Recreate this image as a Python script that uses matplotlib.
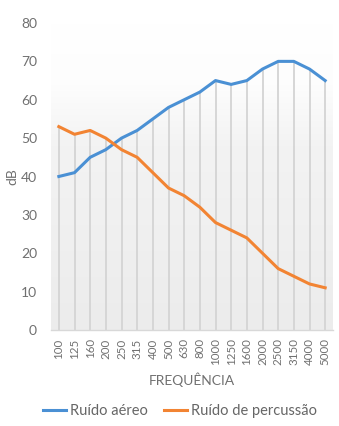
import matplotlib
matplotlib.use("Agg")
import matplotlib.pyplot as plt
import numpy as np
from matplotlib.colors import LinearSegmentedColormap

freqs = ["100", "125", "160", "200", "250", "315", "400", "500", "630", "800",
         "1000", "1250", "1600", "2000", "2500", "3150", "4000", "5000"]
ruido_aereo = [40, 41, 45, 47, 50, 52, 55, 58, 60, 62, 65, 64, 65, 68, 70, 70, 68, 65]
ruido_percussao = [53, 51, 52, 50, 47, 45, 41, 37, 35, 32, 28, 26, 24, 20, 16, 14, 12, 11]
yticks = [0, 10, 20, 30, 40, 50, 60, 70, 80]

plt.rcParams['font.family'] = ['Lato', 'DejaVu Sans']
txt = '#707070'

fig = plt.figure(figsize=(3.39, 4.26), dpi=100)
ax = fig.add_axes([51/339, 1-330/426, (333-51)/339, (330-23)/426])

x = np.arange(len(freqs))
grad = np.linspace(0, 1, 256).reshape(-1, 1)
cmap = LinearSegmentedColormap.from_list(
    'g', [(0, '#ececec'), (0.6, '#f3f3f3'), (0.8, '#fdfdfd'), (1, '#ffffff')])
ax.imshow(grad, extent=[-0.5, len(freqs)-0.5, 0, 80], origin='lower', aspect='auto',
          cmap=cmap, zorder=0)

tops = np.maximum(ruido_aereo, ruido_percussao)
ax.vlines(x, 0, tops, color='#d4d4d4', lw=1.3, zorder=1)

l1, = ax.plot(x, ruido_aereo, color='#4a90d4', lw=2.2, label='Ruído aéreo', zorder=3,
              solid_joinstyle='round')
l2, = ax.plot(x, ruido_percussao, color='#f28433', lw=2.2, label='Ruído de percussão', zorder=3,
              solid_joinstyle='round')

ax.set_xlim(-0.5, len(freqs)-0.5)
ax.set_ylim(0, 80)
ax.set_yticks(yticks)
ax.set_xticks(x)
ax.set_xticklabels(freqs, rotation=90)
ax.tick_params(axis='both', length=0, colors=txt)
ax.tick_params(axis='x', labelsize=8.3, pad=6)
ax.tick_params(axis='y', labelsize=10, pad=10)
for s in ['top', 'right', 'left']:
    ax.spines[s].set_visible(False)
ax.spines['bottom'].set_color('#d8d8d8')
ax.spines['bottom'].set_linewidth(1.0)

ax.set_ylabel('dB', color=txt, fontsize=10)
ax.yaxis.set_label_coords(-0.115, 0.5)
ax.set_xlabel('FREQUÊNCIA', color=txt, fontsize=10, labelpad=5)

leg = fig.legend(handles=[l1, l2], loc='center', bbox_to_anchor=(180/339, 1-411/426),
                 ncol=2, frameon=False, fontsize=10.5, handlelength=1.6,
                 columnspacing=1.1, handletextpad=0.25)
for t in leg.get_texts():
    t.set_color('#666666')

fig.savefig('out.png', dpi=100)
